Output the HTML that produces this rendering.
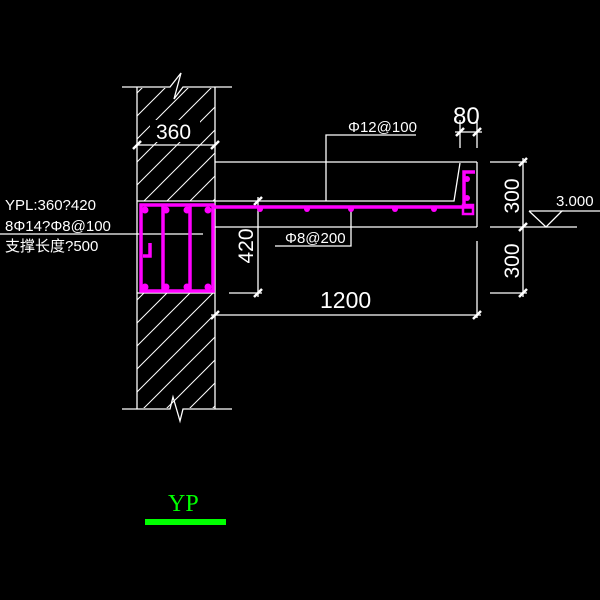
<!DOCTYPE html>
<html><head><meta charset="utf-8"><style>
html,body{margin:0;padding:0;background:#000;overflow:hidden;width:600px;height:600px;}
svg{display:block;}
text{font-family:"Liberation Sans","Noto Sans CJK SC",sans-serif;fill:#fff;}
</style></head><body>
<svg width="600" height="600" viewBox="0 0 600 600" xmlns="http://www.w3.org/2000/svg">
<defs>
<pattern id="hp" patternUnits="userSpaceOnUse" width="23" height="23">
<line x1="0" y1="23" x2="23" y2="0" stroke="#fff" stroke-width="1"/>
<line x1="-2" y1="2" x2="2" y2="-2" stroke="#fff" stroke-width="1"/>
<line x1="21" y1="25" x2="25" y2="21" stroke="#fff" stroke-width="1"/>
</pattern>
</defs>
<rect x="137" y="88" width="78" height="113" fill="url(#hp)"/>
<rect x="137" y="293" width="78" height="115" fill="url(#hp)"/>
<rect x="150" y="120" width="50" height="22" fill="#000"/>
<g stroke="#fff" stroke-width="1.3" fill="none">
<line x1="137" y1="87" x2="137" y2="409"/><line x1="215" y1="87" x2="215" y2="409"/>
<polyline points="122,87 170,87 181,73 174,99 183,87 232,87"/>
<polyline points="122,409 170,409 173,397 180,421 183,409 232,409"/>
<line x1="137" y1="145" x2="215" y2="145"/>
<line x1="137" y1="201" x2="215" y2="201"/>
<line x1="137" y1="293" x2="215" y2="293"/>
<line x1="215" y1="162" x2="477" y2="162"/>
<line x1="215" y1="227" x2="477" y2="227"/>
<line x1="477" y1="162" x2="477" y2="227"/>
<polyline points="215,201 454,201 460,163"/>
<polyline points="326,201 326,135 416,135"/>
<polyline points="351,209 351,246 275,246"/>
<line x1="0" y1="234" x2="203" y2="234"/>
<line x1="460" y1="120" x2="460" y2="148"/><line x1="477" y1="120" x2="477" y2="148"/>
<line x1="455" y1="132" x2="482" y2="132"/>
<line x1="523" y1="158" x2="523" y2="297"/>
<line x1="490" y1="162" x2="527" y2="162"/>
<line x1="490" y1="227" x2="577" y2="227"/>
<line x1="490" y1="293" x2="527" y2="293"/>
<line x1="477" y1="241" x2="477" y2="318"/>
<polyline points="529,211 546,227 562,211 529,211"/>
<line x1="562" y1="211" x2="600" y2="211"/>
<line x1="258" y1="197" x2="258" y2="297"/>
<line x1="229" y1="293" x2="262" y2="293"/>
<line x1="211" y1="315" x2="481" y2="315"/>
</g>
<g stroke="#fff" stroke-width="2.5">
<line x1="133" y1="149" x2="141" y2="141"/><line x1="211" y1="149" x2="219" y2="141"/>
<line x1="456" y1="136" x2="464" y2="128"/><line x1="473" y1="136" x2="481" y2="128"/>
<line x1="519" y1="166" x2="527" y2="158"/><line x1="519" y1="231" x2="527" y2="223"/><line x1="519" y1="297" x2="527" y2="289"/>
<line x1="254" y1="205" x2="262" y2="197"/><line x1="254" y1="297" x2="262" y2="289"/>
<line x1="211" y1="319" x2="219" y2="311"/><line x1="473" y1="319" x2="481" y2="311"/>
</g>
<g stroke="#ff00ff" stroke-width="3.5" fill="none">
<rect x="141" y="205" width="72" height="86"/>
<line x1="163" y1="205" x2="163" y2="291"/><line x1="190" y1="205" x2="190" y2="291"/>
<polyline points="150,243 150,256 143,256"/>
<line x1="213" y1="207" x2="472" y2="207"/>
<polyline points="475,172 464,172 464,208"/>
<rect x="463" y="205" width="10" height="9" stroke-width="2.5"/>
</g>
<g fill="#ff00ff">
<circle cx="145" cy="210" r="3.5"/><circle cx="166" cy="210" r="3.5"/><circle cx="187" cy="210" r="3.5"/><circle cx="208" cy="210" r="3.5"/>
<circle cx="145" cy="287" r="3.5"/><circle cx="166" cy="287" r="3.5"/><circle cx="187" cy="287" r="3.5"/><circle cx="208" cy="287" r="3.5"/>
<circle cx="260" cy="209" r="3"/><circle cx="307" cy="209" r="3"/><circle cx="351" cy="209" r="3"/><circle cx="395" cy="209" r="3"/><circle cx="434" cy="209" r="3"/>
<circle cx="467" cy="179" r="3"/><circle cx="467" cy="198" r="3"/>
</g>
<text x="156" y="139" font-size="21">360</text>
<text x="453" y="124" font-size="24">80</text>
<text x="348" y="132" font-size="15">Φ12@100</text>
<text x="285" y="243" font-size="15">Φ8@200</text>
<text x="320" y="308" font-size="23">1200</text>
<text x="556" y="206" font-size="15">3.000</text>
<text transform="translate(519,196) rotate(-90)" text-anchor="middle" font-size="21">300</text>
<text transform="translate(519,261) rotate(-90)" text-anchor="middle" font-size="21">300</text>
<text transform="translate(253,246) rotate(-90)" text-anchor="middle" font-size="21">420</text>
<text x="5" y="210" font-size="15">YPL:360?420</text>
<text x="5" y="231" font-size="15">8Φ14?Φ8@100</text>
<text x="5" y="251" font-size="15">支撑长度?500</text>
<text x="168" y="511" font-size="24" style="fill:#00ff00;font-family:'Liberation Serif',serif">YP</text>
<rect x="145" y="519" width="81" height="6" fill="#00ff00"/>
</svg>
</body></html>
